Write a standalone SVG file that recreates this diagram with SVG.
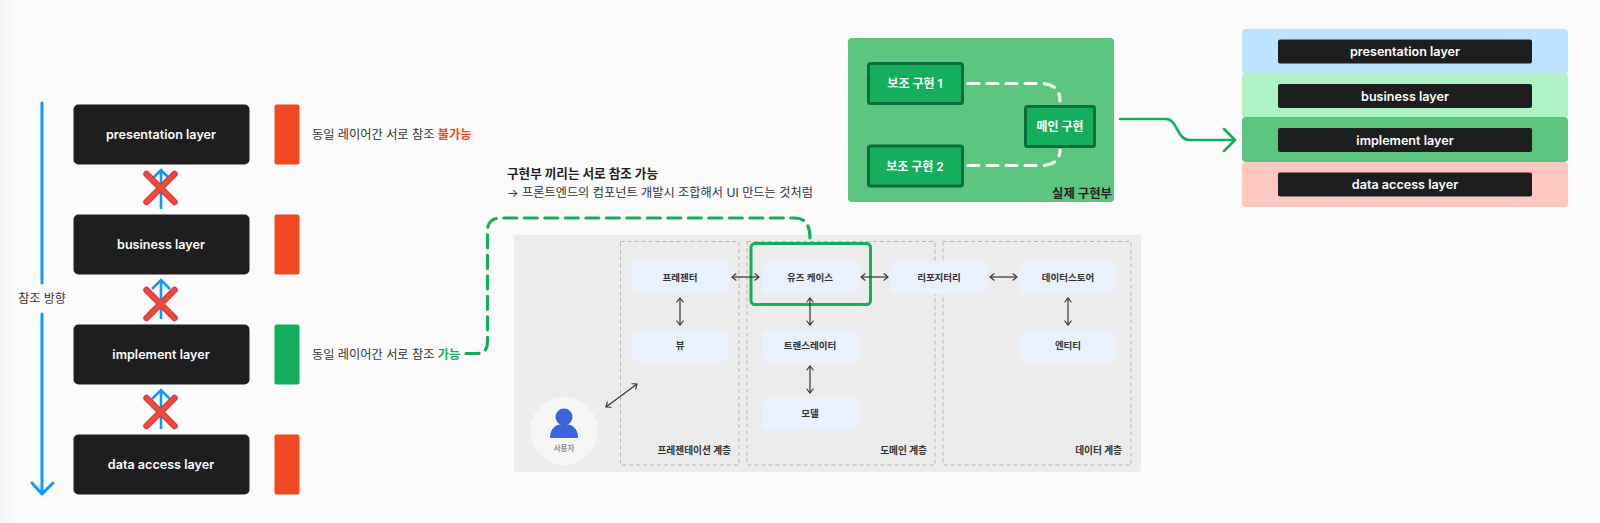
<svg xmlns="http://www.w3.org/2000/svg" width="1600" height="523" viewBox="0 0 1600 523">
<defs>
<linearGradient id="edge" x1="0" x2="1" y1="0" y2="0"><stop offset="0" stop-color="#f3f3f3"/><stop offset="1" stop-color="#fbfbfb"/></linearGradient>
<marker id="a" viewBox="0 0 10 10" refX="9" refY="5" markerWidth="8" markerHeight="8" orient="auto-start-reverse" markerUnits="userSpaceOnUse"><path d="M4 1L9 5L4 9" fill="none" stroke="#333" stroke-width="1.4" stroke-linecap="round"/></marker>
<g id="x"><path d="M-14-14L14 14M14-14L-14 14" stroke="#d63a33" stroke-width="6.5" stroke-linecap="round"/><path d="M-14-14L14 14M14-14L-14 14" stroke="#f0483e" stroke-width="4" stroke-linecap="round"/></g>
</defs>
<style>
text{font-family:Inter,"Noto Sans CJK KR","Noto Sans",sans-serif;text-anchor:middle}
.dark{fill:#1e1e1e}
.lbl{fill:#fff;font-size:12.6px;font-weight:600}
.red{fill:#f24822}.grn{fill:#14ae5c}
.note{fill:#333;font-size:12.2px;text-anchor:start}
.hd{fill:#1e1e1e;font-size:12.6px;font-weight:700;text-anchor:start}
.blue{fill:none;stroke:#0d99ff;stroke-width:3;stroke-linecap:round;stroke-linejoin:round}
.up{fill:none;stroke:#0d99ff;stroke-width:2.6}
.node{fill:#e8f1fd}
.nt{fill:#333;font-size:9.5px;font-weight:700}
.zone{fill:none;stroke:#b5b5b5;stroke-width:1;stroke-dasharray:4 3}
.zt{fill:#333;font-size:9.700px;font-weight:700;text-anchor:end}
.dbl{fill:none;stroke:#333;stroke-width:1.2;marker-start:url(#a);marker-end:url(#a)}
.gd{fill:none;stroke:#14ae5c;stroke-width:3.2;stroke-dasharray:13 7.5;stroke-linecap:round}
.wd{fill:none;stroke:#fff;stroke-width:3.2;stroke-dasharray:11 8;stroke-linecap:round;opacity:.95}
.sub{fill:#14ae5c;stroke:#0a6e3c;stroke-width:3}
.st{fill:#fff;font-size:12px;font-weight:600}
.lay{fill:#1e1e1e}
.ll{fill:#fff;font-size:12.6px;font-weight:600}
</style>
<rect width="1600" height="523" fill="#fbfbfb"/>
<rect width="16" height="523" fill="url(#edge)"/>

<g id="presentation"><rect class="dark" x="73.500" y="104.500" width="176" height="60" rx="5"/><text class="lbl" x="161" y="139">presentation layer</text></g>
<g id="business"><rect class="dark" x="73.500" y="214.500" width="176" height="60" rx="5"/><text class="lbl" x="161" y="249">business layer</text></g>
<g id="implement"><rect class="dark" x="73.500" y="324.500" width="176" height="60" rx="5"/><text class="lbl" x="161" y="359">implement layer</text></g>
<g id="data-access"><rect class="dark" x="73.500" y="434.500" width="176" height="60" rx="5"/><text class="lbl" x="161" y="469">data access layer</text></g>
<g id="bars"><rect class="red" x="274.500" y="104.500" width="25" height="60" rx="2"/><rect class="red" x="274.500" y="214.500" width="25" height="60" rx="2"/><rect class="grn" x="274.500" y="324.500" width="25" height="60" rx="2"/><rect class="red" x="274.500" y="434.500" width="25" height="60" rx="2"/></g>
<text x="42" y="303" fill="#333" font-size="12">참조 방향</text>
<text class="note" x="312" y="139">동일 레이어간 서로 참조 <tspan fill="#f24822" font-weight="700">불가능</tspan></text>
<text class="note" x="312" y="359">동일 레이어간 서로 참조 <tspan fill="#14ae5c" font-weight="700">가능</tspan></text>
<text class="hd" x="507" y="178">구현부 끼리는 서로 참조 가능</text>
<text class="note" x="507" y="197">→ 프론트엔드의 컴포넌트 개발시 조합해서 UI 만드는 것처럼</text>

<g id="arch-panel"><rect x="514" y="235" width="627" height="237" fill="#ececec" rx="1"/>
<rect class="zone" x="620.500" y="241.500" width="118.500" height="223.500"/>
<rect class="zone" x="747" y="241.500" width="188" height="223.500"/>
<rect class="zone" x="943" y="241.500" width="188" height="223.500"/>
<text class="zt" x="731" y="453.500">프레젠테이션 계층</text>
<text class="zt" x="927" y="453.500">도메인 계층</text>
<text class="zt" x="1122" y="453.500">데이터 계층</text></g>
<g id="user"><circle cx="564" cy="431" r="34" fill="#f6f6f6"/><circle cx="564" cy="417" r="8.500" fill="#3b63dc"/><path d="M550 438C550 428 556 424 564 424C572 424 578 428 578 438Z" fill="#3b63dc"/><text x="564" y="451" fill="#555" font-size="7.500">사용자</text></g>
<g id="presenter"><rect class="node" x="632" y="261" width="97" height="33" rx="8"/><text class="nt" x="680" y="280.500">프레젠터</text></g>
<g id="view"><rect class="node" x="632" y="330" width="97" height="32" rx="8"/><text class="nt" x="680" y="349">뷰</text></g>
<g id="usecase"><rect class="node" x="762" y="261" width="98" height="33" rx="8"/><text class="nt" x="810" y="280.500">유즈 케이스</text></g>
<g id="translator"><rect class="node" x="762" y="330" width="97" height="32" rx="8"/><text class="nt" x="810" y="349">트랜스레이터</text></g>
<g id="model"><rect class="node" x="762" y="398" width="97" height="32" rx="8"/><text class="nt" x="810" y="417">모델</text></g>
<g id="repository"><rect class="node" x="890" y="261" width="98" height="33" rx="8"/><text class="nt" x="939" y="280.500">리포지터리</text></g>
<g id="datastore"><rect class="node" x="1019" y="261" width="97" height="33" rx="8"/><text class="nt" x="1068" y="280.500">데이터스토어</text></g>
<g id="entity"><rect class="node" x="1020" y="330" width="96" height="32" rx="8"/><text class="nt" x="1068" y="349">엔티티</text></g>
<rect id="highlight" x="751" y="243.500" width="119.500" height="61" rx="4" fill="none" stroke="#14ae5c" stroke-width="3"/>

<g id="impl-panel"><rect x="848" y="38" width="266" height="164" rx="4" fill="#5cc57f"/><text x="1112" y="198" fill="#1e1e1e" font-size="12.400" font-weight="700" style="text-anchor:end">실제 구현부</text></g>
<g id="sub1"><rect class="sub" x="868.500" y="63.500" width="94" height="40" rx="2"/><text class="st" x="915" y="88">보조 구현 1</text></g>
<g id="sub2"><rect class="sub" x="868.500" y="146" width="94" height="40" rx="2"/><text class="st" x="915" y="170.500">보조 구현 2</text></g>
<g id="main-impl"><rect class="sub" x="1025.500" y="106.500" width="69" height="40" rx="2"/><text class="st" x="1060" y="131">메인 구현</text></g>

<g id="stack">
<rect x="1242" y="29" width="326" height="45" rx="4" fill="#bde3ff"/>
<rect x="1242" y="73" width="326" height="45" rx="4" fill="#aff4c6"/>
<rect x="1242" y="162" width="326" height="45" rx="4" fill="#ffc7c2"/>
<rect x="1242" y="117" width="326" height="45" rx="4" fill="#5cc57f"/>
<g id="s-presentation"><rect class="lay" x="1278" y="39.500" width="254" height="24" rx="2"/><text class="ll" x="1405" y="56">presentation layer</text></g>
<g id="s-business"><rect class="lay" x="1278" y="84" width="254" height="24" rx="2"/><text class="ll" x="1405" y="100.500">business layer</text></g>
<g id="s-implement"><rect class="lay" x="1278" y="128" width="254" height="24" rx="2"/><text class="ll" x="1405" y="144.500">implement layer</text></g>
<g id="s-data"><rect class="lay" x="1278" y="172.500" width="254" height="24" rx="2"/><text class="ll" x="1405" y="189">data access layer</text></g>
</g>

<g id="connectors">
<path class="blue" d="M42 103V283M42 314V494M32 483L42 494L53 483"/>
<path class="up" d="M161 209V171M152 179L161 170L170 179M161 319V281M152 289L161 280L170 289M161 429V391M152 399L161 390L170 399"/>
<use href="#x" x="160.500" y="188"/><use href="#x" x="160.500" y="304"/><use href="#x" x="160.500" y="412"/>
<path class="gd" d="M466 353.500H478Q487.500 353 487.500 342V231Q487.500 218 501 218H795Q810 218 810 238"/>
<path class="dbl" d="M732 277H759"/>
<path class="dbl" d="M861 277H888"/>
<path class="dbl" d="M990 277H1017"/>
<path class="dbl" d="M680 298V325"/>
<path class="dbl" d="M810 298V325"/>
<path class="dbl" d="M810 366V393"/>
<path class="dbl" d="M1068 298V325"/>
<path class="dbl" d="M606 407L637 384"/>
<path class="wd" d="M968 83.500H1040Q1060 83.500 1060 101"/><path class="wd" d="M968 165.500H1040Q1060 165.500 1060 150"/>
<path d="M1120 119H1166C1178 119 1176 140 1190 140H1234M1224 129L1235 140L1224 151" fill="none" stroke="#14ae5c" stroke-width="2.600" stroke-linecap="round" stroke-linejoin="round"/>
</g>
</svg>
